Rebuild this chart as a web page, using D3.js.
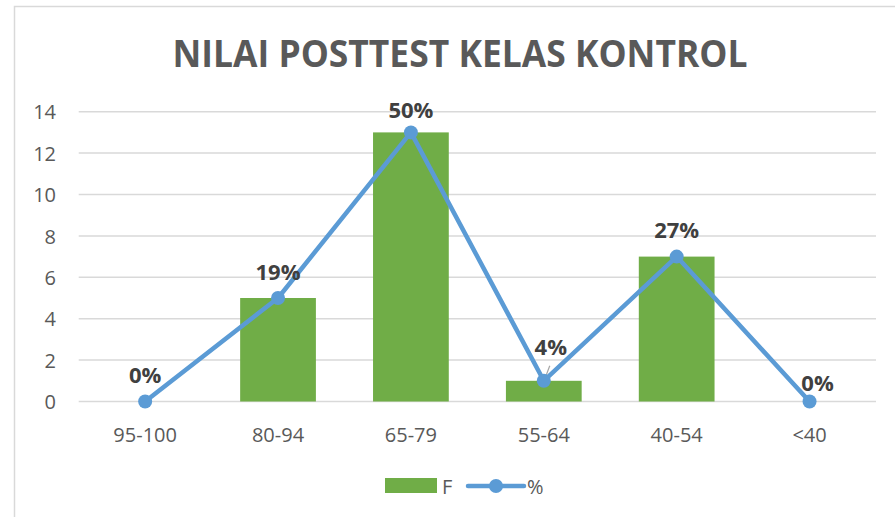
<!DOCTYPE html>
<html><head><meta charset="utf-8">
<script src="https://cdn.jsdelivr.net/npm/d3@7"></script>
<style>body{margin:0;background:#fff}svg{display:block}</style>
</head><body>
<script>
const categories = ["95-100","80-94","65-79","55-64","40-54","<40"];
const freq = [0,5,13,1,7,0];
const percentLabels = ["0%","19%","50%","4%","27%","0%"];
const yTicks = [0,2,4,6,8,10,12,14];
const title = "NILAI POSTTEST KELAS KONTROL";
const seriesNames = ["F","%"];

const W = 895, H = 517;
const svg = d3.select("body").append("svg").attr("width",W).attr("height",H);
const font = "'Open Sans', 'Liberation Sans', sans-serif";

// chart border
svg.append("path").attr("d",`M14.5,${H} L14.5,6.5 L${W},6.5`).attr("fill","none")
  .attr("stroke","#d9d9d9").attr("stroke-width",1.5);

svg.append("text").attr("x",460).attr("y",67).attr("text-anchor","middle")
  .attr("font-family",font).attr("font-weight","bold").attr("font-size",37)
  .attr("fill","#595959").attr("textLength",575).attr("lengthAdjust","spacingAndGlyphs")
  .text(title);

const x = d3.scaleBand().domain(categories).range([78.7,876]).paddingInner(0.43).paddingOuter(0.215);
const y = d3.scaleLinear().domain([0,14]).range([401.5,111.7]);

// gridlines
svg.append("g").selectAll("line").data(yTicks).join("line")
  .attr("x1",78.7).attr("x2",876).attr("y1",d=>y(d)).attr("y2",d=>y(d))
  .attr("stroke","#d9d9d9").attr("stroke-width",1.5);

// y axis
const yAxis = svg.append("g").attr("transform","translate(62,0)")
  .call(d3.axisLeft(y).tickValues(yTicks).tickSize(0).tickPadding(0));
yAxis.select(".domain").remove();
yAxis.selectAll("text").attr("font-family",font).attr("font-size",20).attr("fill","#595959")
  .attr("x",-6).attr("dy","0.36em");

// x axis
const xAxis = svg.append("g").attr("transform","translate(0,401.5)")
  .call(d3.axisBottom(x).tickSize(0).tickPadding(0));
xAxis.select(".domain").remove();
xAxis.selectAll("text").attr("font-family",font).attr("font-size",20).attr("fill","#595959")
  .attr("y",40).attr("dy",0);

// bars
svg.append("g").selectAll("rect").data(freq).join("rect")
  .attr("x",(d,i)=>x(categories[i])).attr("width",x.bandwidth())
  .attr("y",d=>y(d)).attr("height",d=>y(0)-y(d)).attr("fill","#70AD47");

// line
const cx = (d,i)=>x(categories[i])+x.bandwidth()/2;
const line = d3.line().x(cx).y(d=>y(d));
svg.append("path").datum(freq).attr("d",line).attr("fill","none")
  .attr("stroke","#5B9BD5").attr("stroke-width",4.5).attr("stroke-linejoin","round");

// leader line for 4%
svg.append("line").attr("x1",cx(freq[3],3)+1).attr("y1",y(freq[3])-2)
  .attr("x2",cx(freq[3],3)+6).attr("y2",y(freq[3])-15).attr("stroke","#a6a6a6").attr("stroke-width",1.2);

svg.append("g").selectAll("circle").data(freq).join("circle")
  .attr("cx",cx).attr("cy",d=>y(d)).attr("r",7).attr("fill","#5B9BD5");

// data labels
const labelDx = [0,0,0,7,0,8];
const labelDy = [-19,-18,-14,-26,-19,-11];
svg.append("g").selectAll("text").data(freq).join("text")
  .attr("x",(d,i)=>cx(d,i)+labelDx[i]).attr("y",(d,i)=>y(d)+labelDy[i])
  .attr("text-anchor","middle").attr("font-family",font).attr("font-weight","bold")
  .attr("font-size",22).attr("fill","#404040").text((d,i)=>percentLabels[i]);

// legend
const lg = svg.append("g");
lg.append("rect").attr("x",385).attr("y",478).attr("width",52).attr("height",15).attr("fill","#70AD47");
lg.append("text").attr("x",442).attr("y",494).attr("font-family",font).attr("font-size",20)
  .attr("fill","#595959").text(seriesNames[0]);
lg.append("line").attr("x1",468).attr("x2",524).attr("y1",486).attr("y2",486)
  .attr("stroke","#5B9BD5").attr("stroke-width",4.5).attr("stroke-linecap","round");
lg.append("circle").attr("cx",496).attr("cy",486).attr("r",7).attr("fill","#5B9BD5");
lg.append("text").attr("x",527).attr("y",494).attr("font-family",font).attr("font-size",20)
  .attr("fill","#595959").text(seriesNames[1]);
</script>
</body></html>
